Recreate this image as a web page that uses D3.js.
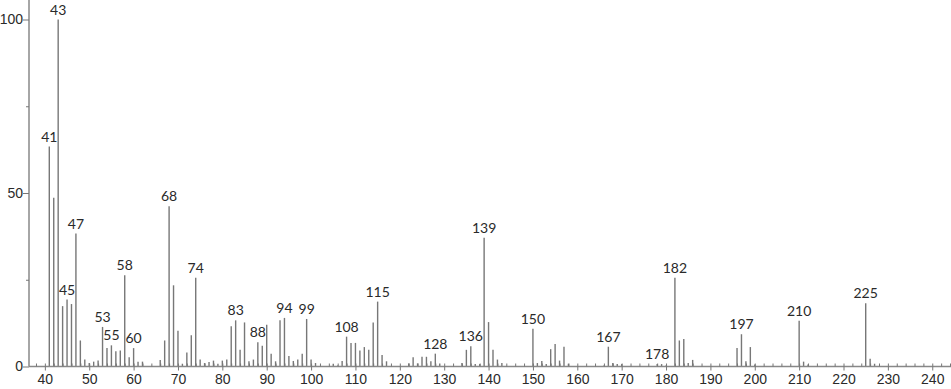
<!DOCTYPE html>
<html>
<head>
<meta charset="utf-8">
<script src="https://cdn.jsdelivr.net/npm/d3@7"></script>
<style>
  body { margin: 0; background: #fff; }
  svg { display: block; font-family: Lato, "DejaVu Sans", sans-serif; }
  .axis text { font-size: 14px; fill: #2a2a2a; }
  .axis line { stroke: #777; }
  .peak-label { font-size: 14px; fill: #2a2a2a; }
</style>
</head>
<body>
<svg width="951" height="389"></svg>
<script>
var mz = [41,42,43,44,45,46,47,48,49,50,51,52,53,54,55,56,57,58,59,60,61,62,
  66,67,68,69,70,71,72,73,74,75,76,77,78,79,80,81,82,83,84,85,86,87,88,89,90,
  91,92,93,94,95,96,97,98,99,100,101,105,106,107,108,109,110,111,112,113,114,
  115,116,117,122,123,124,125,126,127,128,129,134,135,136,137,138,139,140,141,
  142,143,150,151,152,153,154,155,156,157,158,166,167,168,169,170,178,179,180,
  182,183,184,185,186,196,197,198,199,200,210,211,212,225,226,227];

var intensity = [63.4,48.6,100,17.4,19.3,18,38.3,7.5,2,1,1.4,1.7,11.4,5.3,6.1,4.4,4.6,26.3,2.7,5.3,1.4,1.4,
  1.9,7.5,46.2,23.4,10.3,0.8,4,9,25.6,2,1,1.3,1.7,0.8,1.7,2,11.6,13.3,4.8,12.7,1.5,2,7,6,12,
  3.7,1.5,13.3,14,3,1.6,2,3.7,13.7,2,1,0.8,0.3,1.6,8.6,6.8,6.8,4.6,5.6,4.8,12.7,
  18.7,3.3,1.5,0.9,2.7,0.9,2.8,2.8,1.5,3.7,0.9,1,4.8,5.8,0.7,0.7,37.1,12.8,4.8,
  2,1,10.9,1,1.6,0.7,5,6.5,1.7,5.7,0.8,0.3,5.7,1,0.7,0.7,0.7,0.7,0.3,
  25.6,7.5,7.9,1,1.9,5.3,9.3,1.5,5.6,0.6,13.2,1.4,0.6,18.2,2.2,0.8];

var labelled = [41,43,45,47,53,55,58,60,68,74,83,88,94,99,108,115,128,136,139,
  150,167,178,182,197,210,225];

var xMajor = d3.range(40, 241, 10);
var xMinor = d3.range(38, 245, 2);
var yMajor = [0, 50, 100];
var yMinor = [25, 75];

var svg = d3.select("svg"),
    width = +svg.attr("width"),
    height = +svg.attr("height");

var x = d3.scaleLinear().domain([41, 225]).range([49.3, 865.7]);
var y = d3.scaleLinear().domain([0, 100]).range([366.5, 19.5]);

var peaks = mz.map(function(m, i) { return {mz: m, value: intensity[i]}; });

// sticks
svg.append("g")
  .selectAll("line")
  .data(peaks)
  .enter().append("line")
    .attr("x1", function(d) { return x(d.mz); })
    .attr("x2", function(d) { return x(d.mz); })
    .attr("y1", y(0))
    .attr("y2", function(d) { return y(d.value); })
    .attr("stroke", "#777")
    .attr("stroke-width", 1.4);

// axis lines
svg.append("line")
    .attr("x1", 29).attr("x2", 29)
    .attr("y1", 0).attr("y2", y(0))
    .attr("stroke", "#888").attr("stroke-width", 1.5);
svg.append("line")
    .attr("x1", 29).attr("x2", width)
    .attr("y1", y(0)).attr("y2", y(0))
    .attr("stroke", "#888").attr("stroke-width", 1.5);

var xAxis = svg.append("g")
    .attr("class", "axis")
    .attr("transform", "translate(0," + y(0) + ")")
    .call(d3.axisBottom(x).tickValues(xMajor).tickSize(4).tickPadding(4)
      .tickFormat(d3.format("d")));
xAxis.select(".domain").remove();

var xAxisMinor = svg.append("g")
    .attr("class", "axis")
    .attr("transform", "translate(0," + y(0) + ")")
    .call(d3.axisBottom(x).tickValues(xMinor).tickSize(-3).tickFormat(""));
xAxisMinor.select(".domain").remove();

var yAxis = svg.append("g")
    .attr("class", "axis")
    .attr("transform", "translate(29,0)")
    .call(d3.axisLeft(y).tickValues(yMajor).tickSize(6).tickPadding(0)
      .tickFormat(d3.format("d")));
yAxis.select(".domain").remove();

var yAxisMinor = svg.append("g")
    .attr("class", "axis")
    .attr("transform", "translate(29,0)")
    .call(d3.axisLeft(y).tickValues(yMinor).tickSize(3).tickFormat(""));
yAxisMinor.select(".domain").remove();

// peak labels
svg.append("g")
  .selectAll("text")
  .data(peaks.filter(function(d) { return labelled.indexOf(d.mz) >= 0; }))
  .enter().append("text")
    .attr("class", "peak-label")
    .attr("x", function(d) { return x(d.mz); })
    .attr("y", function(d) { return y(d.value) - 5; })
    .attr("text-anchor", "middle")
    .text(function(d) { return d.mz; });
</script>
</body>
</html>
